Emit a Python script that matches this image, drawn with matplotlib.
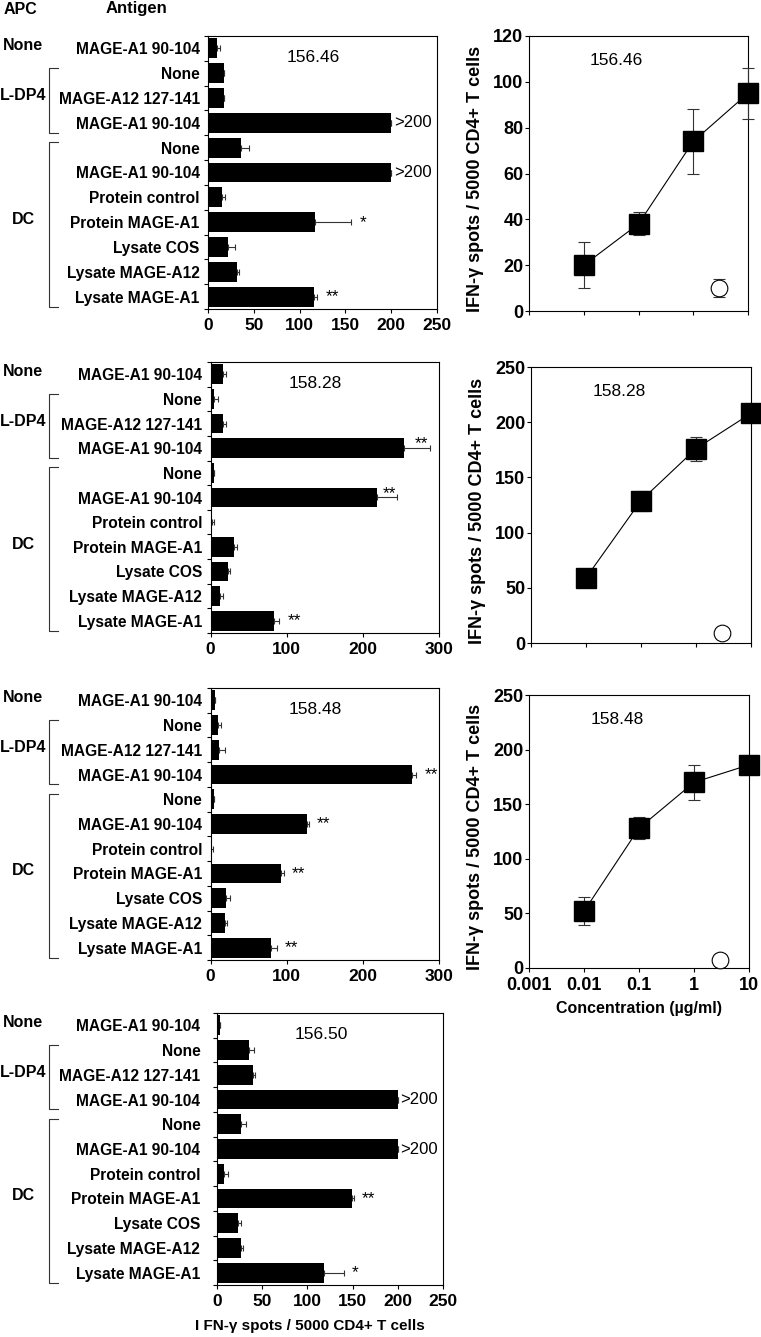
import matplotlib.pyplot as plt
from matplotlib import transforms

plt.rcParams['font.family'] = ['Liberation Sans', 'DejaVu Sans']
plt.rcParams['axes.linewidth'] = 0.8

# rows of every bar panel, top to bottom
antigens = ['MAGE-A1 90-104', 'None', 'MAGE-A12 127-141', 'MAGE-A1 90-104',
            'None', 'MAGE-A1 90-104', 'Protein control', 'Protein MAGE-A1',
            'Lysate COS', 'Lysate MAGE-A12', 'Lysate MAGE-A1']
apc_names = ['None', 'L-DP4', 'DC']
apc_first = [0, 1, 4]
apc_last = [0, 3, 10]

# bar panels (IFN-g spots / 5000 CD4+ T cells)
vals_15646 = [10, 18, 18, 200, 36, 200, 15, 117, 22, 32, 116]
errs_15646 = [3, 0, 0, 0, 9, 0, 4, 39, 7, 2, 3]
marks_15646 = ['', '', '', '>200', '', '>200', '', '*', '', '', '**']

vals_15828 = [16, 5, 17, 254, 5, 219, 2, 31, 23, 12, 84]
errs_15828 = [5, 5, 3, 34, 0, 26, 3, 4, 3, 5, 6]
marks_15828 = ['', '', '', '**', '', '**', '', '', '', '', '**']

vals_15848 = [6, 9.5, 11, 265, 4.7, 127, 1, 93, 20, 18.6, 79]
errs_15848 = [0, 4.5, 8, 5, 0, 2, 2, 3, 5, 3.5, 8]
marks_15848 = ['', '', '', '**', '', '**', '', '**', '', '', '**']

vals_15650 = [3, 35, 40, 200, 26, 200, 8, 149, 23.5, 26, 118]
errs_15650 = [0, 6, 2, 0, 6, 0, 4, 2, 2.5, 3, 22]
marks_15650 = ['', '', '', '>200', '', '>200', '', '**', '', '', '*']

# dose response panels
conc = [0.01, 0.1, 1, 10]
ctrl_conc = [3]
dose_15646 = [20, 38, 74, 95]
dose_err_15646 = [10, 5, 14, 11]
ctrl_15646 = [10]
ctrl_err_15646 = [4]

dose_15828 = [59, 129, 176, 208]
dose_err_15828 = [0, 9, 11, 0]
ctrl_15828 = [9]
ctrl_err_15828 = [0]

dose_15848 = [52, 128, 170, 186]
dose_err_15848 = [13, 10, 16, 0]
ctrl_15848 = [7]
ctrl_err_15848 = [0]

W, H = 761, 1337
fig = plt.figure(figsize=(W / 100, H / 100), dpi=100)


def box(l, t, r, b):
    return [l / W, 1 - b / H, (r - l) / W, (b - t) / H]


def bar_panel(rect, clone, vals, errs, marks, xmax, step, label_pad, above=()):
    ax = fig.add_axes(box(*rect))
    n = len(antigens)
    y = list(range(n))
    ax.barh(y, vals, height=0.8, color='black',
            xerr=[[0] * n, errs], error_kw=dict(ecolor='#333333', elinewidth=0.8, capsize=2.5, capthick=0.8))
    ax.set_ylim(n - 0.5, -0.5)
    ax.set_xlim(0, xmax)
    ax.set_xticks(range(0, xmax + 1, step))
    ax.set_yticks([i - 0.5 for i in range(n + 1)])
    ax.set_yticklabels([])
    ax.set_yticks(y, minor=True)
    ax.set_yticklabels(antigens, minor=True, fontsize=11.2, fontweight='bold')
    ax.tick_params(axis='y', which='minor', length=0, pad=label_pad)
    ax.tick_params(axis='y', which='major', length=3, width=0.8)
    ax.tick_params(axis='x', length=3, width=0.8, labelsize=12.5)
    for t in ax.get_xticklabels():
        t.set_fontweight('bold')
    ax.text(0.46, 0.92, clone, transform=ax.transAxes, ha='center', va='center', fontsize=12.5)

    for i, m in enumerate(marks):
        if not m:
            continue
        end = vals[i] + errs[i]
        if m.startswith('>'):
            ax.annotate(m, (end, i), xytext=(2, 0), textcoords='offset points',
                        ha='left', va='center', fontsize=12)
        elif i in above:
            ax.annotate(m, (end, i), xytext=(-1, 3), textcoords='offset points',
                        ha='right', va='center', fontsize=12.5)
        else:
            ax.annotate(m, (end, i), xytext=(6, 0), textcoords='offset points',
                        ha='left', va='center', fontsize=12.5)

    # APC group labels and brackets left of the row labels
    tr = transforms.blended_transform_factory(fig.transFigure, ax.transData)
    for name, a, b in zip(apc_names, apc_first, apc_last):
        ax.text(23 / W, (a + b) / 2 - 0.1, name, transform=tr, ha='center', va='center',
                fontsize=11.5, fontweight='bold', clip_on=False)
        if b > a:
            x0, x1 = 49 / W, 58 / W
            ax.plot([x1, x0, x0, x1], [a - 0.22, a - 0.22, b + 0.4, b + 0.4],
                    transform=tr, color='#333333', lw=0.8, clip_on=False)
    return ax


def dose_panel(rect, clone, dose, dose_err, ctrl, ctrl_err, ymax, step, show_x):
    ax = fig.add_axes(box(*rect))
    ax.set_xscale('log')
    ax.errorbar(conc, dose, yerr=dose_err, color='black', lw=0.8, marker='s', markersize=14,
                ecolor='#333333', elinewidth=0.8, capsize=4, capthick=0.8, clip_on=False, zorder=3)
    ax.errorbar(ctrl_conc, ctrl, yerr=ctrl_err, color='black', lw=0, marker='o', markersize=12,
                markerfacecolor='white', markeredgewidth=0.8, ecolor='#333333',
                elinewidth=0.8, capsize=4, capthick=0.8, clip_on=False, zorder=3)
    ax.set_xlim(0.001, 10)
    ax.set_ylim(0, ymax)
    ax.set_xticks([0.001, 0.01, 0.1, 1, 10])
    ax.minorticks_off()
    ax.set_yticks(range(0, ymax + 1, step))
    ax.tick_params(axis='y', length=3, width=0.8, pad=1, labelsize=13)
    ax.tick_params(axis='x', length=3, width=0.8, labelsize=13)
    if show_x:
        ax.set_xticklabels(['0.001', '0.01', '0.1', '1', '10'])
        ax.set_xlabel('Concentration (µg/ml)', fontsize=11.5, fontweight='bold', labelpad=5)
    else:
        ax.set_xticklabels([])
    for t in ax.get_xticklabels() + ax.get_yticklabels():
        t.set_fontweight('bold')
    ax.set_ylabel('IFN-γ spots / 5000 CD4+ T cells', fontsize=13, fontweight='bold')
    ax.yaxis.set_label_coords(-0.205, 0.48)
    ax.text(0.40, 0.91, clone, transform=ax.transAxes, ha='center', va='center', fontsize=12.5)
    return ax


fig.text(20 / W, 1 - 10 / H, 'APC', ha='center', va='center', fontsize=11.5, fontweight='bold')
fig.text(136 / W, 1 - 9 / H, 'Antigen', ha='center', va='center', fontsize=12, fontweight='bold')

bar_panel((208, 36, 437, 309), '156.46', vals_15646, errs_15646, marks_15646, 250, 50, 6)
bar_panel((210.5, 362, 439, 633), '158.28', vals_15828, errs_15828, marks_15828, 300, 100, 6,
          above=(3, 5))
bar_panel((210.5, 688, 439, 960), '158.48', vals_15848, errs_15848, marks_15848, 300, 100, 6)
ax4 = bar_panel((217, 1013, 443, 1285), '156.50', vals_15650, errs_15650, marks_15650, 250, 50, 12)
ax4.set_xlabel('I FN-γ spots / 5000 CD4+ T cells', fontsize=11, fontweight='bold')
ax4.xaxis.set_label_coords(0.41, -0.125)

dose_panel((529, 36, 748, 311), '156.46', dose_15646, dose_err_15646, ctrl_15646, ctrl_err_15646,
           120, 20, False)
dose_panel((531, 367, 751, 643), '158.28', dose_15828, dose_err_15828, ctrl_15828, ctrl_err_15828,
           250, 50, False)
dose_panel((529, 695, 749, 968), '158.48', dose_15848, dose_err_15848, ctrl_15848, ctrl_err_15848,
           250, 50, True)

fig.savefig('out.png', dpi=100)
